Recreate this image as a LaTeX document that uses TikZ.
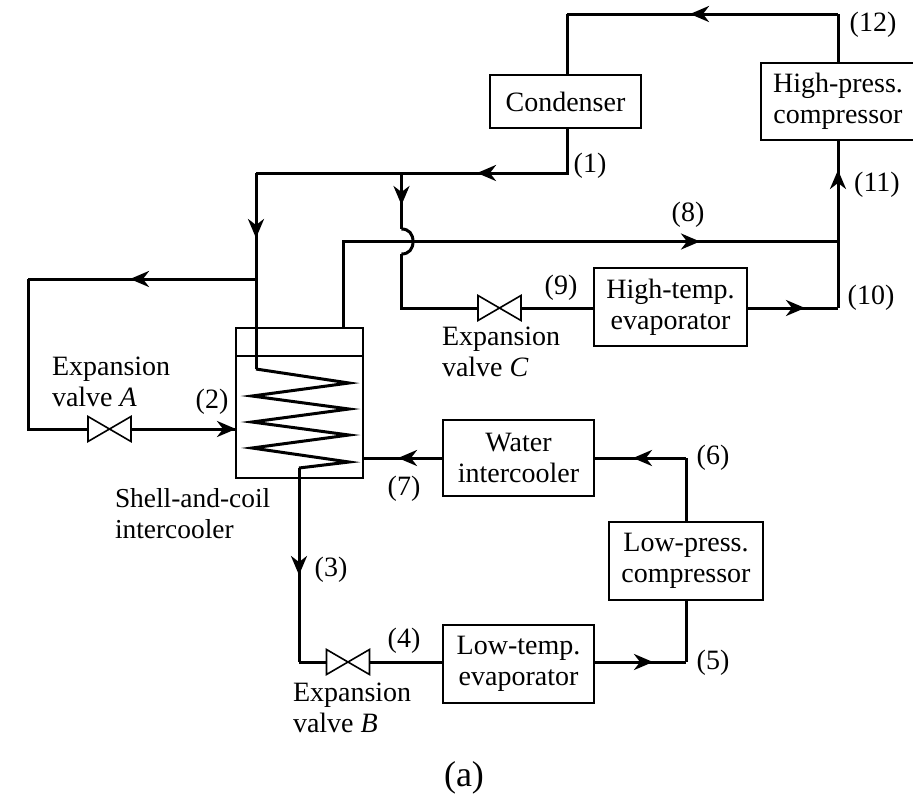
\documentclass[tikz,border=0pt]{standalone}
\usepackage{fontspec}
\setmainfont{Liberation Serif}
\usetikzlibrary{arrows.meta,decorations.markings}
\tikzset{
  x=1pt,y=-1pt,
  every node/.style={font=\fontsize{28}{31}\selectfont,inner sep=0pt,outer sep=0pt},
  unitbox/.style={draw,line width=1.6pt,align=center,minimum width=#1,fill=white},
  lbl/.style={align=left,anchor=west},
  num/.style={anchor=center},
  pipe/.style={line width=3pt,line join=miter},
  shell/.style={draw,line width=1.6pt},
  valveshape/.style={line width=1.6pt,fill=white},
  head/.tip={Stealth[length=19pt,width=16pt,inset=6pt]},
  flow/.style={postaction={decorate},decoration={markings,mark=at position #1 with {\arrow{head}}}},
}
\newcommand{\valve}[3]{%
  \coordinate (#1) at (#2,#3);
  \coordinate (#1w) at (#2-21.5,#3);
  \coordinate (#1e) at (#2+21.5,#3);
  \draw[valveshape] (#2-21.5,#3-12.5) -- (#2+21.5,#3+12.5) -- (#2+21.5,#3-12.5) -- (#2-21.5,#3+12.5) -- cycle;}
\begin{document}
\begin{tikzpicture}
\useasboundingbox (0,0) rectangle (913,796);
% junctions
\coordinate (top1) at (567,14);
\coordinate (top2) at (838,14);
\coordinate (c1) at (567,173);
\coordinate (c2) at (401.5,173);
\coordinate (c3) at (256,173);
\coordinate (b1) at (256,279);
\coordinate (b2) at (28,279);
\coordinate (b3) at (28,429);
\coordinate (coilA) at (256,369);
\coordinate (j1) at (401.5,229);
\coordinate (j2) at (401.5,254);
\coordinate (j3) at (401.5,308);
\coordinate (s1) at (343,328);
\coordinate (s2) at (343,241.5);
\coordinate (s3) at (838,241.5);
\coordinate (t1) at (838,308);
\coordinate (i1) at (686,458);
\coordinate (i2) at (686,662);
\coordinate (coilB) at (299,468);
\coordinate (d1) at (299,662);
% boxes
\node[unitbox=151pt,minimum height=53pt] (cond) at (565.5,101.5) {Condenser};
\node[unitbox=154pt,minimum height=77pt] (hpc) at (838,101.5) {High-press.\\compressor};
\node[unitbox=153pt,minimum height=78pt] (hte) at (670.5,307) {High-temp.\\evaporator};
\node[unitbox=151pt,minimum height=76pt] (wic) at (518.5,458) {Water\\intercooler};
\node[unitbox=154pt,minimum height=78pt] (lpc) at (686,561) {Low-press.\\compressor};
\node[unitbox=151pt,minimum height=78pt] (lte) at (518.5,664) {Low-temp.\\evaporator};
\node[shell,minimum width=127pt,minimum height=150pt] (ic) at (299.5,403) {};
\draw[line width=1.6pt] (ic.west|-0,356) -- (ic.east|-0,356);
% valves
\valve{va}{109.5}{429}
\valve{vb}{348}{662}
\valve{vc}{499.5}{308}
% circuits
\draw[pipe,flow=148pt] (top2) -- (top1);
\draw[pipe] (top1) -- (cond.north-|top1);
\draw[pipe] (hpc.north-|top2) -- (top2);
\draw[pipe,flow=135pt] (cond.south-|c1) -- (c1) -- (c3);
\draw[pipe,flow=65pt] (c3) -- (coilA);
\draw[pipe,flow=32pt] (c2) -- (j1);
\draw[pipe] (j1) .. controls (409,229) and (413,234) .. (413,241.5) .. controls (413,249) and (409,254) .. (j2);
\draw[pipe] (j2) -- (j3) -- (vcw);
\draw[pipe] (vce) -- (hte.west|-vce);
\draw[pipe,flow=58pt] (hte.east|-t1) -- (t1);
\draw[pipe,flow=138pt] (t1) -- (hpc.south-|t1);
\draw[pipe,flow=443.5pt] (s1) -- (s2) -- (s3);
\draw[pipe,flow=126pt] (b1) -- (b2);
\draw[pipe] (b2) -- (b3) -- (vaw);
\draw[pipe,flow=1] (vae) -- (ic.west|-vae);
% coil
\draw[pipe] (coilA) -- (349,383) -- (252,396) -- (349,409) -- (252,422) -- (349,435) -- (252,448) -- (349,462) -- (coilB);
\draw[pipe,flow=107pt] (coilB) -- (d1);
\draw[pipe] (d1) -- (vbw);
\draw[pipe] (vbe) -- (lte.west|-vbe);
\draw[pipe,flow=45pt] (wic.west) -- (ic.east|-wic.west);
\draw[pipe,flow=59pt] (lte.east|-i2) -- (i2);
\draw[pipe] (i2) -- (lpc.south-|i2);
\draw[pipe] (lpc.north-|i1) -- (i1);
\draw[pipe,flow=53pt] (i1) -- (wic.east|-i1);
% labels
\node[num] (l1) at (590,166) {(1)};
\node[num] (l2) at (212,402) {(2)};
\node[num] (l3) at (331,570) {(3)};
\node[num] (l4) at (404,641) {(4)};
\node[num] (l5) at (713,663) {(5)};
\node[num] (l6) at (713,458) {(6)};
\node[num] (l7) at (404,489) {(7)};
\node[num] (l8) at (688,215) {(8)};
\node[num] (l9) at (561,288) {(9)};
\node[num] (l10) at (871,298) {(10)};
\node[num] (l11) at (877,185) {(11)};
\node[num] (l12) at (873,25) {(12)};
\node[lbl] (ta) at (52,382) {Expansion\\valve \textit{A}};
\node[lbl] (tb) at (293,708) {Expansion\\valve \textit{B}};
\node[lbl] (tc) at (442,352) {Expansion\\valve \textit{C}};
\node[lbl,font=\fontsize{27.4}{31}\selectfont] (ts) at (115,514) {Shell-and-coil\\intercooler};
\node[font=\fontsize{36}{38}\selectfont] (cap) at (464,778) {(a)};
\end{tikzpicture}
\end{document}
